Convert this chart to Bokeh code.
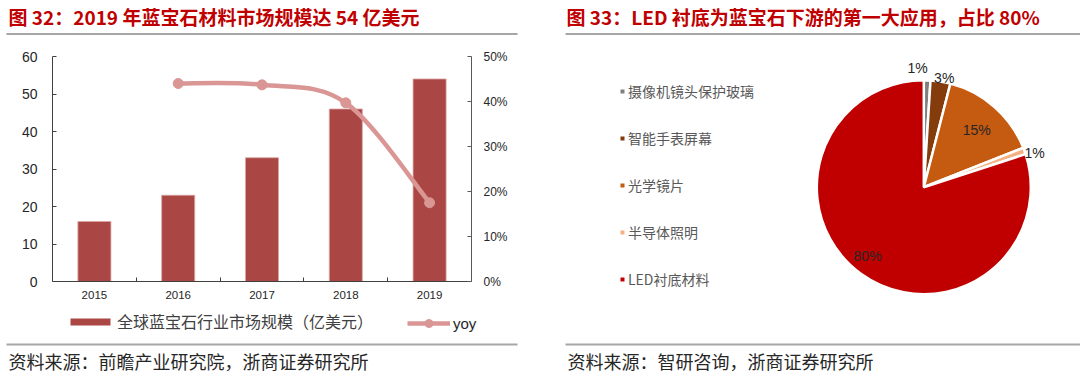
import math
from bokeh.plotting import figure
from bokeh.layouts import column, row
from bokeh.models import (Range1d, LinearAxis, FixedTicker, NumeralTickFormatter,
                          Legend, LegendItem, ColumnDataSource)
from bokeh.core.properties import value
from bokeh.embed import file_html
from bokeh.resources import INLINE

# ---------------- data ----------------
years = ["2015", "2016", "2017", "2018", "2019"]
market_size = [16, 23, 33, 46, 54]            # 亿美元
yoy = [None, 0.44, 0.437, 0.397, 0.175]        # growth rate

y_ticks = [0, 10, 20, 30, 40, 50, 60]
y2_ticks = [0, 0.1, 0.2, 0.3, 0.4, 0.5]

pie_labels = ["摄像机镜头保护玻璃", "智能手表屏幕", "光学镜片", "半导体照明", "LED衬底材料"]
pie_shares = [0.01, 0.03, 0.15, 0.01, 0.80]
pie_texts = ["1%", "3%", "15%", "1%", "80%"]

title_left = "图 32：2019 年蓝宝石材料市场规模达 54 亿美元"
title_right = "图 33：LED 衬底为蓝宝石下游的第一大应用，占比 80%"
source_left = "资料来源：前瞻产业研究院，浙商证券研究所"
source_right = "资料来源：智研咨询，浙商证券研究所"
legend_bar = "全球蓝宝石行业市场规模（亿美元）"
legend_line = "yoy"

# ---------------- styles ----------------
CJK_NAME = "Noto Sans CJK SC"
SANS_NAME = "Liberation Sans"
CJK = value(CJK_NAME)
SANS = value(SANS_NAME)
RED_TITLE = "#C00000"
BAR_COLOR = "#AA4643"
LINE_COLOR = "#D99694"
PIE_COLORS = ["#7F7F7F", "#843C0C", "#C55A11", "#F4B183", "#C00000"]
SEP_COLOR = "#A6A6A6"
W = 1080
H_HDR, H_MID, H_FTR = 38, 270, 72
NAN = float("nan")


def blank(w, h, flip=True):
    p = figure(width=w, height=h, x_range=Range1d(0, w),
               y_range=Range1d(h, 0) if flip else Range1d(0, h),
               x_axis_type=None, y_axis_type=None,
               output_backend="svg", toolbar_location=None,
               min_border=0, outline_line_color=None)
    p.grid.visible = False
    p.frame_align = False
    return p


# ---------------- header ----------------
hdr = blank(W, H_HDR)
hdr.text(x=[8, 566], y=[16, 16], text=[title_left, title_right],
         text_font=CJK, text_font_size="19px", text_font_style="bold",
         text_color=RED_TITLE, text_baseline="middle", text_align="left")
hdr.segment(x0=[6, 565], x1=[517, 1080], y0=[33.5, 33.5], y1=[33.5, 33.5],
            line_color=SEP_COLOR, line_width=2)

# ---------------- left: bar + line ----------------
n = len(years)
xc = [i + 0.5 for i in range(n)]
pl = figure(width=540, height=H_MID, x_range=Range1d(0, n),
            y_range=Range1d(y_ticks[0], y_ticks[-1]),
            x_axis_type=None, y_axis_type=None,
            output_backend="svg", toolbar_location=None,
            min_border_left=52, min_border_right=69,
            min_border_top=18, min_border_bottom=27,
            outline_line_color=None)
pl.grid.visible = False
pl.frame_align = False
pl.extra_y_ranges = {"yoy": Range1d(y2_ticks[0], y2_ticks[-1])}

xax = LinearAxis(ticker=FixedTicker(ticks=xc, minor_ticks=list(range(1, n))),
                 major_label_overrides={x: y for x, y in zip(xc, years)})
xax.major_tick_in = 0
xax.major_tick_out = 0
xax.minor_tick_in = 4
xax.minor_tick_out = 0
xax.axis_line_color = "#404040"
xax.minor_tick_line_color = "#404040"
xax.major_label_text_font = SANS_NAME
xax.major_label_text_font_size = "11.5px"
xax.major_label_text_color = "#262626"
xax.major_label_standoff = 9
pl.add_layout(xax, "below")

yax = LinearAxis(ticker=FixedTicker(ticks=y_ticks))
yax.major_tick_in = 4
yax.major_tick_out = 0
yax.minor_tick_in = 0
yax.minor_tick_out = 0
yax.axis_line_color = "#404040"
yax.major_tick_line_color = "#404040"
yax.major_label_text_font = SANS_NAME
yax.major_label_text_font_size = "14px"
yax.major_label_text_color = "#262626"
yax.major_label_standoff = 15
pl.add_layout(yax, "left")

y2ax = LinearAxis(y_range_name="yoy", ticker=FixedTicker(ticks=y2_ticks),
                  formatter=NumeralTickFormatter(format="0%"))
y2ax.major_tick_in = 4
y2ax.major_tick_out = 0
y2ax.minor_tick_in = 0
y2ax.minor_tick_out = 0
y2ax.axis_line_color = "#595959"
y2ax.major_tick_line_color = "#595959"
y2ax.major_label_text_font = SANS_NAME
y2ax.major_label_text_font_size = "12px"
y2ax.major_label_text_color = "#262626"
y2ax.major_label_standoff = 12
pl.add_layout(y2ax, "right")

pl.vbar(x=xc, top=market_size, width=0.394, fill_color=BAR_COLOR,
        line_color="#D9A3A1", line_width=0.8)

# smoothed yoy line (Catmull-Rom as cubic Bezier through the data points)
pts = [(x, v) for x, v in zip(xc, yoy) if v is not None]
bx0, by0, bx1, by1, cxa, cya, cxb, cyb = [], [], [], [], [], [], [], []
for i in range(len(pts) - 1):
    p0 = pts[i - 1] if i > 0 else pts[i]
    p1 = pts[i]
    p2 = pts[i + 1]
    p3 = pts[i + 2] if i + 2 < len(pts) else pts[i + 1]
    bx0.append(p1[0]); by0.append(p1[1])
    bx1.append(p2[0]); by1.append(p2[1])
    cxa.append(p1[0] + (p2[0] - p0[0]) / 6); cya.append(p1[1] + (p2[1] - p0[1]) / 6)
    cxb.append(p2[0] - (p3[0] - p1[0]) / 6); cyb.append(p2[1] - (p3[1] - p1[1]) / 6)
pl.bezier(x0=bx0, y0=by0, x1=bx1, y1=by1, cx0=cxa, cy0=cya, cx1=cxb, cy1=cyb,
          line_color=LINE_COLOR, line_width=4.5, y_range_name="yoy")
pl.scatter(x=[p[0] for p in pts], y=[p[1] for p in pts], size=10,
           fill_color=LINE_COLOR, line_color=LINE_COLOR, y_range_name="yoy")

# ---------------- right: pie ----------------
pp = blank(540, H_MID, flip=False)
cx, cy, R = 383.3, H_MID - 148.7, 107
starts, ends, mids = [], [], []
acc = 0.0
for s in pie_shares:
    a0 = math.pi / 2 - acc * 2 * math.pi
    acc += s
    a1 = math.pi / 2 - acc * 2 * math.pi
    starts.append(a0); ends.append(a1); mids.append((a0 + a1) / 2)
src = ColumnDataSource(dict(start=starts, end=ends, color=PIE_COLORS, label=pie_labels))
r_pie = pp.wedge(x=cx, y=cy, radius=R, start_angle="start", end_angle="end",
                 direction="clock", fill_color="color", line_color="white",
                 line_width=2.5, source=src)

lab_r = [1.11, 1.04, 0.72, 1.10, 0.83]
lab_dx = [-10, 3, 2, 0, -4]
lab_dy = [0, -1, -1, -6, 3]
lx = [cx + f * R * math.cos(m) + d for f, m, d in zip(lab_r, mids, lab_dx)]
ly = [cy + f * R * math.sin(m) + d for f, m, d in zip(lab_r, mids, lab_dy)]
pp.text(x=lx, y=ly, text=pie_texts, text_font=SANS, text_font_size="14px",
        text_color="#262626", text_align="center", text_baseline="middle")

# legend swatches: one square key per slice, same colours as the wedges
k_sq = pp.scatter(x=[NAN] * len(pie_labels), y=[NAN] * len(pie_labels), marker="square",
                  size=4, fill_color=PIE_COLORS, line_color=None)
leg3 = Legend(items=[LegendItem(label=l, renderers=[k_sq], index=i)
                     for i, l in enumerate(pie_labels)],
              location=(77, 18.6), orientation="vertical",
              glyph_width=10, glyph_height=10, label_standoff=1, label_height=20,
              padding=0, margin=0, spacing=27, border_line_color=None,
              background_fill_alpha=0, label_text_font=CJK_NAME,
              label_text_font_size="14px", label_text_color="#595959")
pp.add_layout(leg3)

# ---------------- footer (legend of left chart, separators, sources) ----------------
ftr = blank(W, H_FTR)
# legend key renderers (NaN rows: nothing is drawn, they only supply the legend swatches)
k_bar = ftr.vbar(x=[NAN], top=[NAN], width=1, fill_color=BAR_COLOR, line_color=None)
k_line = ftr.line(x=[NAN, NAN], y=[NAN, NAN], line_color=LINE_COLOR, line_width=4.5)
k_dot = ftr.scatter(x=[NAN], y=[NAN], size=10, fill_color=LINE_COLOR, line_color=LINE_COLOR)

leg1 = Legend(items=[LegendItem(label=legend_bar, renderers=[k_bar])],
              location=(65, 46.7), orientation="horizontal",
              glyph_width=50, glyph_height=9, label_standoff=2, label_height=9,
              padding=0, margin=0, spacing=0, border_line_color=None,
              background_fill_alpha=0, label_text_font=CJK_NAME,
              label_text_font_size="16px", label_text_color="#404040")
leg2 = Legend(items=[LegendItem(label=legend_line, renderers=[k_line, k_dot])],
              location=(407, 46.7), orientation="horizontal",
              glyph_width=43, glyph_height=20, label_standoff=3, label_height=20,
              padding=0, margin=0, spacing=0, border_line_color=None,
              background_fill_alpha=0, label_text_font=SANS_NAME,
              label_text_font_size="15px", label_text_color="#262626")
ftr.add_layout(leg1)
ftr.add_layout(leg2)

ftr.segment(x0=[6, 565], x1=[517, 1080], y0=[36, 36], y1=[36, 36],
            line_color=SEP_COLOR, line_width=2)
ftr.text(x=[8, 567], y=[52.5, 52.5], text=[source_left, source_right],
         text_font=CJK, text_font_size="18px", text_color="#262626",
         text_baseline="middle", text_align="left")

layout = column(hdr, row(pl, pp), ftr)
open("out.html", "w").write(file_html(layout, INLINE))
